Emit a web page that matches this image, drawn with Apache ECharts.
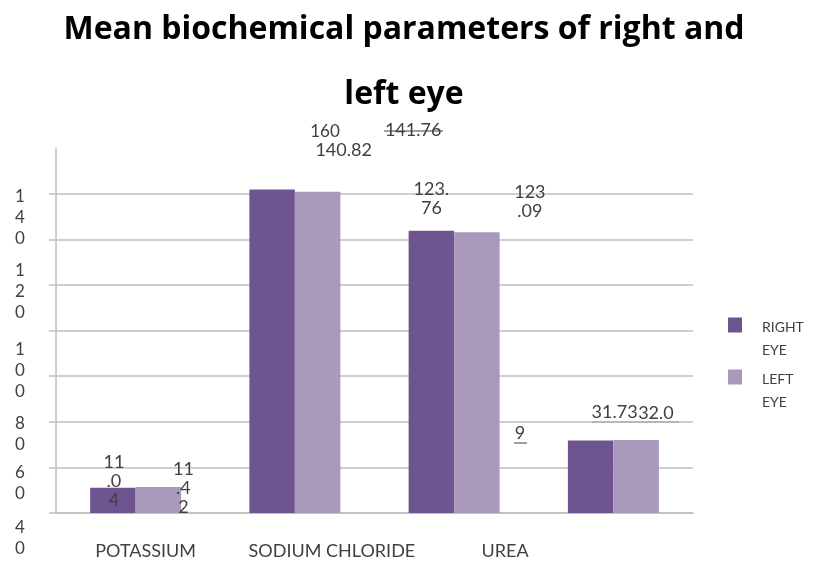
<!DOCTYPE html>
<html><head><meta charset="utf-8">
<script src="https://cdn.jsdelivr.net/npm/echarts@6/dist/echarts.min.js"></script>
<style>html,body{margin:0;padding:0;background:#fff}#c{width:816px;height:562px}</style>
</head><body><div id="c"></div>
<script>
// ---- data ----
const categories = ['POTASSIUM', 'SODIUM CHLORIDE', 'UREA', ''];
const seriesNames = ['RIGHT EYE', 'LEFT EYE'];
const rightEye = [11.04, 141.76, 123.76, 31.73];
const leftEye = [11.42, 140.82, 123.09, 32.0];
const rightLabels = ['11\n.0\n4', '141.76', '123.\n76', '31.73'];
const leftLabels = ['11\n.4\n2', '140.82', '123\n.09', '32.0'];
const yTickLabels = ['160', '140', '120', '100', '80', '60', '40'];
const strayText = '9';

// ---- layout / style ----
const rightLabelOffsets = [[1, -7], [141, -59], [0, -32], [47, -28]];
const rightLabelAlign = ['center', 'center', 'center', 'right'];
const leftLabelOffsets = [[25, 1], [26, -42], [53, -31], [2, -27]];
const leftLabelAlign = ['center', 'center', 'center', 'left'];
const catLabelShift = [10, 37, 51, 0];
const yTickPos = [[325, 132, false], [20, 218, true], [20, 292, true], [20, 371, true], [20, 434, true], [20, 483, true], [20, 538, true]];
const textColor = '#404040';
const gridColor = '#bfbfbf';
const FONT = 'Lato';

const chart = echarts.init(document.getElementById('c'), null, {renderer: 'canvas'});

function makeData(vals, offs, aligns, texts) {
  return vals.map((v, i) => ({
    value: v,
    label: {offset: offs[i], align: aligns[i], formatter: () => texts[i]}
  }));
}

const rich = {};
catLabelShift.forEach((s, i) => {
  rich['c' + i] = {padding: [0, 0, 0, 2 * s], fontSize: 18, fontFamily: FONT, color: textColor};
});

const labelBase = {
  show: true, position: 'top', distance: 0, align: 'center', verticalAlign: 'middle',
  fontSize: 18, lineHeight: 19, fontFamily: FONT, color: textColor
};

const graphics = yTickLabels.map((t, i) => ({
  type: 'text',
  x: yTickPos[i][0], y: yTickPos[i][1],
  style: {
    text: yTickPos[i][2] ? t.split('').join('\n') : t,
    align: 'center', verticalAlign: 'middle',
    fontSize: 17, lineHeight: 21, fontFamily: FONT, fill: textColor
  }
}));
graphics.push({type: 'text', x: 520, y: 433, style: {text: strayText, align: 'center', verticalAlign: 'middle', fontSize: 18, fontFamily: FONT, fill: textColor}});
graphics.push({type: 'line', shape: {x1: 514, y1: 443, x2: 527, y2: 443}, style: {stroke: textColor, lineWidth: 1}});
graphics.push({type: 'line', shape: {x1: 592, y1: 422, x2: 679, y2: 422}, style: {stroke: textColor, lineWidth: 1}});
graphics.push({type: 'line', shape: {x1: 384, y1: 131, x2: 443, y2: 131}, style: {stroke: textColor, lineWidth: 1}});

const option = {
  backgroundColor: '#ffffff',
  animation: false,
  title: {
    text: 'Mean biochemical parameters of right and\nleft eye',
    left: 404, top: -3, textAlign: 'center', padding: 0,
    textStyle: {fontSize: 32, lineHeight: 65, fontWeight: 'bold', fontFamily: 'Open Sans', color: '#000'}
  },
  legend: {
    orient: 'vertical', left: 728, top: 295, padding: 0, itemGap: -10,
    itemWidth: 14, itemHeight: 15, icon: 'rect',
    formatter: n => '{p| }\n{t|' + n.split(' ').join('}\n{t|') + '}',
    textStyle: {
      fontSize: 14, fontFamily: FONT, color: textColor,
      rich: {
        p: {fontSize: 14, lineHeight: 27, fontFamily: FONT},
        t: {fontSize: 14, lineHeight: 23, fontFamily: FONT, color: textColor, padding: [0, 0, 0, 15]}
      }
    },
    data: seriesNames
  },
  grid: {left: 56, right: 123, top: 148, bottom: 49, containLabel: false, outerBoundsMode: 'none'},
  xAxis: {
    type: 'category', data: categories,
    axisLine: {show: true, lineStyle: {color: gridColor, width: 1.5}},
    axisTick: {show: false},
    axisLabel: {margin: 29, interval: 0, formatter: (v, i) => v ? '{c' + i + '|' + v + '}' : '', rich: rich}
  },
  yAxis: {
    type: 'value', min: 0, max: 160, interval: 20,
    axisLine: {show: true, lineStyle: {color: gridColor, width: 1.5}},
    axisTick: {show: true, length: 7, lineStyle: {color: gridColor, width: 1.5}, customValues: [0, 20, 40, 60, 80, 100, 120, 140]},
    axisLabel: {show: false},
    splitLine: {show: true, lineStyle: {color: [gridColor, gridColor, gridColor, gridColor, gridColor, gridColor, gridColor, gridColor, 'rgba(0,0,0,0)'], width: 1.5}}
  },
  series: [
    {name: seriesNames[0], type: 'bar', barWidth: 45.5, barGap: '0%', itemStyle: {color: '#6f5590'},
     label: labelBase, data: makeData(rightEye, rightLabelOffsets, rightLabelAlign, rightLabels)},
    {name: seriesNames[1], type: 'bar', barWidth: 45.5, barGap: '0%', itemStyle: {color: '#a899bd'},
     label: labelBase, data: makeData(leftEye, leftLabelOffsets, leftLabelAlign, leftLabels)}
  ],
  graphic: graphics
};
chart.setOption(option);
</script></body></html>
